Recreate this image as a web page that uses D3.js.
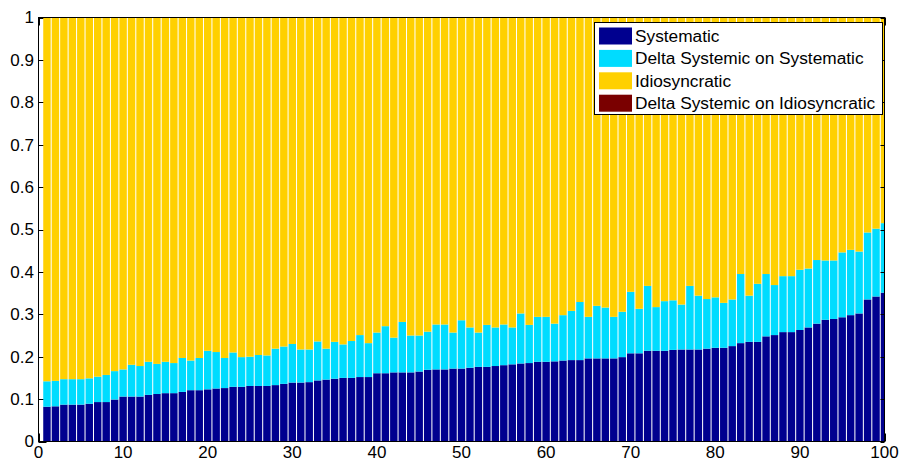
<!DOCTYPE html>
<html>
<head>
<meta charset="utf-8">
<script src="https://cdn.jsdelivr.net/npm/d3@7"></script>
<style>
  body { margin: 0; background: #fff; }
  svg { display: block; font-family: "Liberation Sans", Arial, sans-serif; }
</style>
</head>
<body>
<svg id="chart" width="901" height="462"></svg>
<script>
// Series values per bar (1..100)
var systematic = [
  0.082, 0.083, 0.087, 0.087, 0.087, 0.089, 0.093, 0.093, 0.099, 0.106,
  0.106, 0.106, 0.110, 0.112, 0.114, 0.114, 0.117, 0.121, 0.121, 0.123,
  0.125, 0.126, 0.129, 0.129, 0.131, 0.131, 0.131, 0.133, 0.136, 0.139,
  0.139, 0.140, 0.144, 0.146, 0.148, 0.150, 0.150, 0.152, 0.152, 0.161,
  0.161, 0.163, 0.163, 0.163, 0.165, 0.169, 0.170, 0.170, 0.172, 0.172,
  0.174, 0.176, 0.176, 0.178, 0.180, 0.182, 0.184, 0.185, 0.188, 0.188,
  0.189, 0.191, 0.192, 0.192, 0.196, 0.196, 0.196, 0.196, 0.199, 0.208,
  0.208, 0.214, 0.214, 0.214, 0.216, 0.217, 0.217, 0.217, 0.219, 0.221,
  0.221, 0.225, 0.232, 0.235, 0.235, 0.248, 0.251, 0.258, 0.258, 0.263,
  0.269, 0.278, 0.287, 0.289, 0.293, 0.298, 0.302, 0.335, 0.342, 0.351
];
var deltaSystematic = [
  0.060, 0.060, 0.060, 0.060, 0.060, 0.060, 0.060, 0.064, 0.067, 0.064,
  0.075, 0.072, 0.078, 0.071, 0.074, 0.071, 0.080, 0.070, 0.076, 0.091,
  0.086, 0.071, 0.081, 0.070, 0.069, 0.073, 0.072, 0.086, 0.088, 0.091,
  0.078, 0.077, 0.092, 0.073, 0.087, 0.079, 0.087, 0.099, 0.080, 0.096,
  0.111, 0.082, 0.119, 0.087, 0.085, 0.090, 0.106, 0.106, 0.085, 0.114,
  0.095, 0.081, 0.099, 0.091, 0.096, 0.087, 0.118, 0.090, 0.106, 0.106,
  0.089, 0.107, 0.116, 0.137, 0.098, 0.124, 0.120, 0.098, 0.107, 0.145,
  0.105, 0.153, 0.103, 0.117, 0.117, 0.106, 0.150, 0.127, 0.117, 0.119,
  0.106, 0.110, 0.163, 0.109, 0.137, 0.147, 0.118, 0.132, 0.132, 0.142,
  0.139, 0.150, 0.140, 0.138, 0.153, 0.154, 0.146, 0.158, 0.160, 0.164
];
var idiosyncratic = [
  0.858, 0.857, 0.853, 0.853, 0.853, 0.851, 0.847, 0.843, 0.834, 0.830,
  0.819, 0.822, 0.812, 0.817, 0.812, 0.815, 0.803, 0.809, 0.803, 0.786,
  0.789, 0.803, 0.790, 0.801, 0.800, 0.796, 0.797, 0.781, 0.776, 0.770,
  0.783, 0.783, 0.764, 0.781, 0.765, 0.771, 0.763, 0.749, 0.768, 0.743,
  0.728, 0.755, 0.718, 0.750, 0.750, 0.741, 0.724, 0.724, 0.743, 0.714,
  0.731, 0.743, 0.725, 0.731, 0.724, 0.731, 0.698, 0.725, 0.706, 0.706,
  0.722, 0.702, 0.692, 0.671, 0.706, 0.680, 0.684, 0.706, 0.694, 0.647,
  0.687, 0.633, 0.683, 0.669, 0.667, 0.677, 0.633, 0.656, 0.664, 0.660,
  0.673, 0.665, 0.605, 0.656, 0.628, 0.605, 0.631, 0.610, 0.610, 0.595,
  0.592, 0.572, 0.573, 0.573, 0.554, 0.548, 0.552, 0.507, 0.498, 0.485
];
// not visible in the picture: the stack already reaches 1
var deltaIdiosyncratic = [
  0, 0, 0, 0, 0, 0, 0, 0, 0, 0, 0, 0, 0, 0, 0, 0, 0, 0, 0, 0,
  0, 0, 0, 0, 0, 0, 0, 0, 0, 0, 0, 0, 0, 0, 0, 0, 0, 0, 0, 0,
  0, 0, 0, 0, 0, 0, 0, 0, 0, 0, 0, 0, 0, 0, 0, 0, 0, 0, 0, 0,
  0, 0, 0, 0, 0, 0, 0, 0, 0, 0, 0, 0, 0, 0, 0, 0, 0, 0, 0, 0,
  0, 0, 0, 0, 0, 0, 0, 0, 0, 0, 0, 0, 0, 0, 0, 0, 0, 0, 0, 0
];

var seriesNames = ["Systematic", "Delta Systemic on Systematic", "Idiosyncratic", "Delta Systemic on Idiosyncratic"];
var seriesColors = ["#00008f", "#00dcff", "#ffd000", "#7a0000"];
var xTicks = [0, 10, 20, 30, 40, 50, 60, 70, 80, 90, 100];
var yTicks = [0, 0.1, 0.2, 0.3, 0.4, 0.5, 0.6, 0.7, 0.8, 0.9, 1];

var svg = d3.select("#chart");
var plotLeft = 38.5, plotRight = 884.5, plotTop = 17.5, plotBottom = 441.5;
var barWidth = 0.88;

var x = d3.scaleLinear().domain([0, 100]).range([plotLeft, plotRight]);
var y = d3.scaleLinear().domain([0, 1]).range([plotBottom, plotTop]);

// build rows for the stack
var rows = systematic.map(function (v, i) {
  var r = { idx: i + 1 };
  r[seriesNames[0]] = v;
  r[seriesNames[1]] = deltaSystematic[i];
  r[seriesNames[2]] = idiosyncratic[i];
  r[seriesNames[3]] = deltaIdiosyncratic[i];
  return r;
});
var stacked = d3.stack().keys(seriesNames)(rows);

svg.append("defs").append("clipPath").attr("id", "plotClip")
  .append("rect")
  .attr("x", plotLeft).attr("y", plotTop)
  .attr("width", plotRight - plotLeft).attr("height", plotBottom - plotTop);

// inside ticks go under the bars (matlab style)
var tickLen = 8;
var tickG = svg.append("g").attr("stroke", "#000").attr("stroke-width", 1);
yTicks.forEach(function (t) {
  var yy = Math.round(y(t)) + 0.5;
  tickG.append("line").attr("x1", plotLeft).attr("x2", plotLeft + tickLen).attr("y1", yy).attr("y2", yy);
});
xTicks.forEach(function (t) {
  var xx = Math.round(x(t)) + 0.5;
  tickG.append("line").attr("x1", xx).attr("x2", xx).attr("y1", plotBottom).attr("y2", plotBottom - tickLen);
  tickG.append("line").attr("x1", xx).attr("x2", xx).attr("y1", plotTop).attr("y2", plotTop + tickLen);
});

// bars
var barG = svg.append("g").attr("clip-path", "url(#plotClip)");
stacked.forEach(function (layer, k) {
  barG.append("g")
    .attr("fill", seriesColors[k])
    .selectAll("rect")
    .data(layer)
    .join("rect")
    .attr("x", function (d) { return x(d.data.idx - barWidth / 2); })
    .attr("width", x(barWidth) - x(0))
    .attr("y", function (d) { return y(d[1]); })
    .attr("height", function (d) { return Math.max(0, y(d[0]) - y(d[1])); });
});

// right-side ticks show over the last, half-cut bar
var rightTicks = svg.append("g").attr("stroke", "#000").attr("stroke-width", 1);
yTicks.forEach(function (t) {
  var yy = Math.round(y(t)) + 0.5;
  rightTicks.append("line").attr("x1", plotRight - 4).attr("x2", plotRight).attr("y1", yy).attr("y2", yy);
});

// axes box
svg.append("rect")
  .attr("x", plotLeft).attr("y", plotTop)
  .attr("width", plotRight - plotLeft).attr("height", plotBottom - plotTop)
  .attr("fill", "none").attr("stroke", "#000").attr("stroke-width", 1);

// tick labels
svg.append("g").selectAll("text")
  .data(yTicks)
  .join("text")
  .attr("x", plotLeft - 4.5)
  .attr("y", function (d) { return y(d); })
  .attr("dy", "0.35em")
  .attr("text-anchor", "end")
  .attr("font-size", 17)
  .text(function (d) { return d3.format("~g")(d); });

svg.append("g").selectAll("text")
  .data(xTicks)
  .join("text")
  .attr("x", function (d) { return x(d); })
  .attr("y", 458)
  .attr("text-anchor", "middle")
  .attr("font-size", 17)
  .text(function (d) { return d; });

// legend
var lg = svg.append("g");
lg.append("rect")
  .attr("x", 594.5).attr("y", 22.5)
  .attr("width", 288).attr("height", 92)
  .attr("fill", "#fff").attr("stroke", "#000");
seriesNames.forEach(function (name, k) {
  var cy = 36 + k * 22.4;
  lg.append("rect")
    .attr("x", 599).attr("y", cy - 8.5)
    .attr("width", 33).attr("height", 17)
    .attr("fill", seriesColors[k]);
  lg.append("text")
    .attr("x", 635).attr("y", cy)
    .attr("dy", "0.35em")
    .attr("font-size", 17.3)
    .text(name);
});
</script>
</body>
</html>
